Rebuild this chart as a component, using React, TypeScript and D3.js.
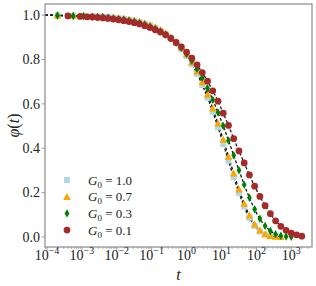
import * as d3 from "d3";

// log10(t) sampling shared by all runs
const logTime = [
  -3.7, -3.4, -3.25, -3.05, -2.95, -2.85,
  -2.7, -2.55, -2.4, -2.25, -2.1, -1.95, -1.8, -1.65, -1.5, -1.35,
  -1.2, -1.05, -0.9, -0.75, -0.6, -0.45, -0.3, -0.15, 0, 0.15,
  0.3, 0.45, 0.6, 0.75, 0.9, 1.05, 1.2, 1.35, 1.5, 1.65,
  1.8, 1.95, 2.1, 2.25, 2.4, 2.55, 2.7, 2.85, 3.0, 3.15, 3.3,
];

const phiG10 = [
  0.999, null, 0.998, null, 0.997, null,
  0.995, 0.994, 0.993, 0.991, 0.989, 0.986, 0.983, 0.979, 0.975, 0.969,
  0.962, 0.954, 0.943, 0.930, 0.915, 0.897, 0.874, 0.848, 0.816, 0.779,
  0.735, 0.685, 0.628, 0.564, 0.494, 0.420, 0.344, 0.269, 0.199, 0.137,
  0.087, 0.050, 0.025, 0.011, 0.004, null, null, null, null, null, null,
];

const phiG07 = [
  0.999, null, 0.998, null, 0.997, null,
  0.995, 0.994, 0.993, 0.991, 0.990, 0.987, 0.984, 0.980, 0.976, 0.971,
  0.964, 0.956, 0.946, 0.934, 0.919, 0.901, 0.880, 0.855, 0.824, 0.788,
  0.747, 0.698, 0.642, 0.580, 0.512, 0.439, 0.363, 0.287, 0.215, 0.151,
  0.098, 0.057, 0.030, 0.013, 0.005, 0.002, 0.001, null, null, null, null,
];

const phiG03 = [
  0.998, null, 0.996, null, 0.995, null,
  0.993, 0.992, 0.990, 0.988, 0.985, 0.982, 0.979, 0.975, 0.970, 0.964,
  0.957, 0.948, 0.938, 0.926, 0.912, 0.895, 0.875, 0.852, 0.825, 0.794,
  0.758, 0.717, 0.670, 0.618, 0.561, 0.500, 0.435, 0.368, 0.301, 0.236,
  0.177, 0.125, 0.082, 0.050, 0.027, 0.013, 0.006, 0.002, 0.001, null, null,
];

const phiG01 = [
  null, 0.996, null, 0.994, null, 0.992,
  0.991, 0.989, 0.987, 0.985, 0.982, 0.979, 0.975, 0.971, 0.966, 0.960,
  0.952, 0.944, 0.934, 0.924, 0.911, 0.895, 0.877, 0.857, 0.833, 0.806,
  0.776, 0.741, 0.702, 0.659, 0.612, 0.558, 0.503, 0.443, 0.388, 0.334,
  0.280, 0.229, 0.183, 0.141, 0.105, 0.073, 0.048, 0.030, 0.017, 0.010, 0.004,
];

const seriesLabels = ["1.0", "0.7", "0.3", "0.1"];
const seriesPhi = [phiG10, phiG07, phiG03, phiG01];
const seriesColors = ["#add8e6", "#ffa500", "#008000", "#a52a2a"];
const seriesMarkers = ["square", "triangle", "thindiamond", "circle"];

const xTickExps = [-4, -3, -2, -1, 0, 1, 2, 3];
const yTicks = [0.0, 0.2, 0.4, 0.6, 0.8, 1.0];

const W = 316;
const H = 286;
const M = { left: 45, right: 4, top: 4, bottom: 39 };

const FONT = "'Liberation Serif', serif";

const markerPath = (kind: string) => {
  if (kind === "square") return "M-3,-3H3V3H-3Z";
  if (kind === "triangle") return "M0,-3.8L3.8,3.2L-3.8,3.2Z";
  if (kind === "thindiamond") return "M0,-4.2L2.4,0L0,4.2L-2.4,0Z";
  return d3.symbol(d3.symbolCircle, 36)() as string;
};

export default function App() {
  const x = d3
    .scaleLog()
    .domain([10 ** -4.057, 10 ** 3.593])
    .range([M.left, W - M.right]);
  const y = d3.scaleLinear().domain([-0.045, 1.05]).range([H - M.bottom, M.top]);

  const minorTicks: number[] = [];
  for (let e = -5; e <= 3; e++) {
    for (let k = 2; k <= 9; k++) {
      const v = k * 10 ** e;
      if (v > x.domain()[0] && v < x.domain()[1]) minorTicks.push(v);
    }
  }

  const line = d3
    .line<[number, number]>()
    .x((d) => x(d[0]))
    .y((d) => y(d[1]))
    .curve(d3.curveMonotoneX);

  const series = seriesPhi.map((phi) =>
    logTime
      .map((lt, i) => [10 ** lt, phi[i]] as [number, number | null])
      .filter((d) => d[1] !== null) as [number, number][]
  );

  const x0 = M.left;
  const x1 = W - M.right;
  const y0 = H - M.bottom;
  const y1 = M.top;
  const txt = { fontFamily: FONT, fill: "#222" };

  return (
    <svg
      width={W}
      height={H}
      style={{ position: "absolute", left: 0, top: 0, background: "#fff" }}
    >
      <defs>
        <clipPath id="plot-clip">
          <rect x={x0} y={y1} width={x1 - x0} height={y0 - y1} />
        </clipPath>
      </defs>

      {/* fit lines */}
      <g clipPath="url(#plot-clip)">
        {series.map((pts, i) => (
          <path
            key={"fit" + i}
            d={line([[x.domain()[0], 1.0], ...pts]) as string}
            fill="none"
            stroke="#1a1a1a"
            strokeWidth={1.3}
            strokeDasharray="3,2"
          />
        ))}
      </g>

      {/* markers */}
      {series.map((pts, i) => (
        <g key={"m" + i} fill={seriesColors[i]}>
          {pts.map((d, j) => (
            <path
              key={j}
              d={markerPath(seriesMarkers[i])}
              transform={`translate(${x(d[0])},${y(d[1])})`}
            />
          ))}
        </g>
      ))}

      {/* frame */}
      <rect
        x={x0}
        y={y1}
        width={x1 - x0}
        height={y0 - y1}
        fill="none"
        stroke="#8a8a8a"
        strokeWidth={1.2}
      />

      {/* x ticks */}
      {minorTicks.map((v, i) => (
        <line key={"mn" + i} x1={x(v)} x2={x(v)} y1={y0} y2={y0 + 2} stroke="#8a8a8a" strokeWidth={0.6} />
      ))}
      {xTickExps.map((e) => (
        <g key={"xt" + e}>
          <line x1={x(10 ** e)} x2={x(10 ** e)} y1={y0} y2={y0 + 3.5} stroke="#8a8a8a" strokeWidth={0.8} />
          <text x={x(10 ** e)} y={260} textAnchor="middle" fontSize={14} style={txt}>
            10
            <tspan fontSize={10} dy={-6}>
              {e < 0 ? "\u2212" + Math.abs(e) : String(e)}
            </tspan>
          </text>
        </g>
      ))}

      {/* y ticks */}
      {yTicks.map((v) => (
        <g key={"yt" + v}>
          <line x1={x0 - 3.5} x2={x0} y1={y(v)} y2={y(v)} stroke="#8a8a8a" strokeWidth={0.8} />
          <text x={40} y={y(v) + 4.8} textAnchor="end" fontSize={14} style={txt}>
            {v.toFixed(1)}
          </text>
        </g>
      ))}

      {/* axis labels */}
      <text x={(x0 + x1) / 2} y={280} textAnchor="middle" fontSize={16} fontStyle="italic" style={txt}>
        t
      </text>
      <text
        transform={`translate(19,${(y0 + y1) / 2}) rotate(-90)`}
        textAnchor="middle"
        fontSize={16}
        style={txt}
      >
        <tspan fontStyle="italic">φ</tspan>(<tspan fontStyle="italic">t</tspan>)
      </text>

      {/* legend */}
      {seriesLabels.map((lab, i) => {
        const ly = 180 + i * 16.7;
        return (
          <g key={"lg" + i}>
            <path d={markerPath(seriesMarkers[i])} transform={`translate(67,${ly})`} fill={seriesColors[i]} />
            <text x={88} y={ly + 4.5} fontSize={13} style={txt}>
              <tspan fontStyle="italic">G</tspan>
              <tspan fontSize={9} dy={3}>0</tspan>
              <tspan dy={-3}>{" = " + lab}</tspan>
            </text>
          </g>
        );
      })}
    </svg>
  );
}
